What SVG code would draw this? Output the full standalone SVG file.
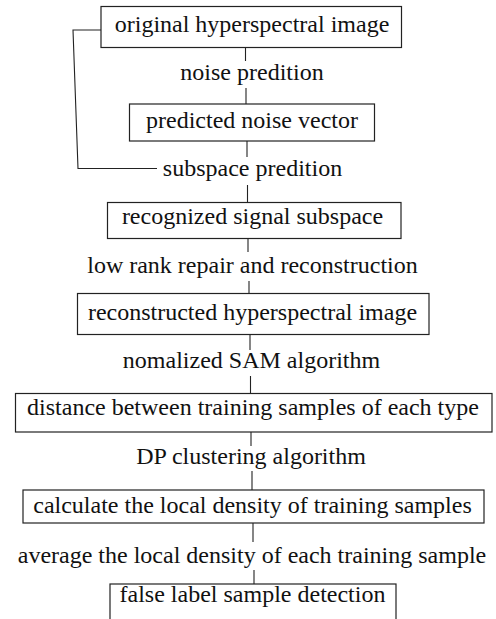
<svg xmlns="http://www.w3.org/2000/svg" width="496" height="619" viewBox="0 0 496 619">
<style>
.box{fill:#fff;stroke:#222;stroke-width:1.2}
.t{font-family:"Liberation Serif","Times New Roman",serif;font-size:24px;fill:#111;text-anchor:middle}
.c{fill:none;stroke:#222;stroke-width:1.1}
</style>
<rect width="496" height="619" fill="#fff"/>
<g id="connectors">
<line class="c" x1="245.5" y1="47" x2="245.5" y2="61"/>
<line class="c" x1="246" y1="88" x2="246" y2="104"/>
<line class="c" x1="247" y1="141" x2="247" y2="157"/>
<polyline class="c" points="101,30 73,30 78,168.5 157,168.5"/>
<line class="c" x1="247.5" y1="185" x2="247.5" y2="202"/>
<line class="c" x1="248" y1="238" x2="248" y2="252"/>
<line class="c" x1="249" y1="281" x2="249" y2="293"/>
<line class="c" x1="250" y1="335" x2="250" y2="350"/>
<line class="c" x1="250.5" y1="376" x2="250.5" y2="393"/>
<line class="c" x1="251" y1="432" x2="251" y2="446"/>
<line class="c" x1="252" y1="471" x2="252" y2="490"/>
<line class="c" x1="253" y1="523" x2="253" y2="542"/>
<line class="c" x1="254" y1="570" x2="254" y2="584"/>
</g>
<g id="n1"><rect class="box" x="101" y="6.5" width="300.5" height="41"/><text class="t" x="252" y="32">original hyperspectral image</text></g>
<text id="l1" class="t" x="252" y="80">noise predition</text>
<g id="n2"><rect class="box" x="129.5" y="104" width="245" height="37"/><text class="t" x="252" y="128">predicted noise vector</text></g>
<text id="l2" class="t" x="252.5" y="176">subspace predition</text>
<g id="n3"><rect class="box" x="107.5" y="202.5" width="293.5" height="36"/><text class="t" x="252.5" y="224">recognized signal subspace</text></g>
<text id="l3" class="t" x="252.5" y="273">low rank repair and reconstruction</text>
<g id="n4"><rect class="box" x="77.5" y="293.5" width="351.5" height="41"/><text class="t" x="252.5" y="320">reconstructed hyperspectral image</text></g>
<text id="l4" class="t" x="251.5" y="368">nomalized SAM algorithm</text>
<g id="n5"><rect class="box" x="15.5" y="393.5" width="476.5" height="38.5"/><text class="t" x="253" y="415">distance between training samples of each type</text></g>
<text id="l5" class="t" x="251" y="464">DP clustering algorithm</text>
<g id="n6"><rect class="box" x="23" y="490" width="461" height="33"/><text class="t" x="252.5" y="513">calculate the local density of training samples</text></g>
<text id="l6" class="t" x="252" y="563">average the local density of each training sample</text>
<g id="n7"><rect class="box" x="110" y="584" width="286" height="40"/><text class="t" x="252.5" y="602">false label sample detection</text></g>
</svg>
